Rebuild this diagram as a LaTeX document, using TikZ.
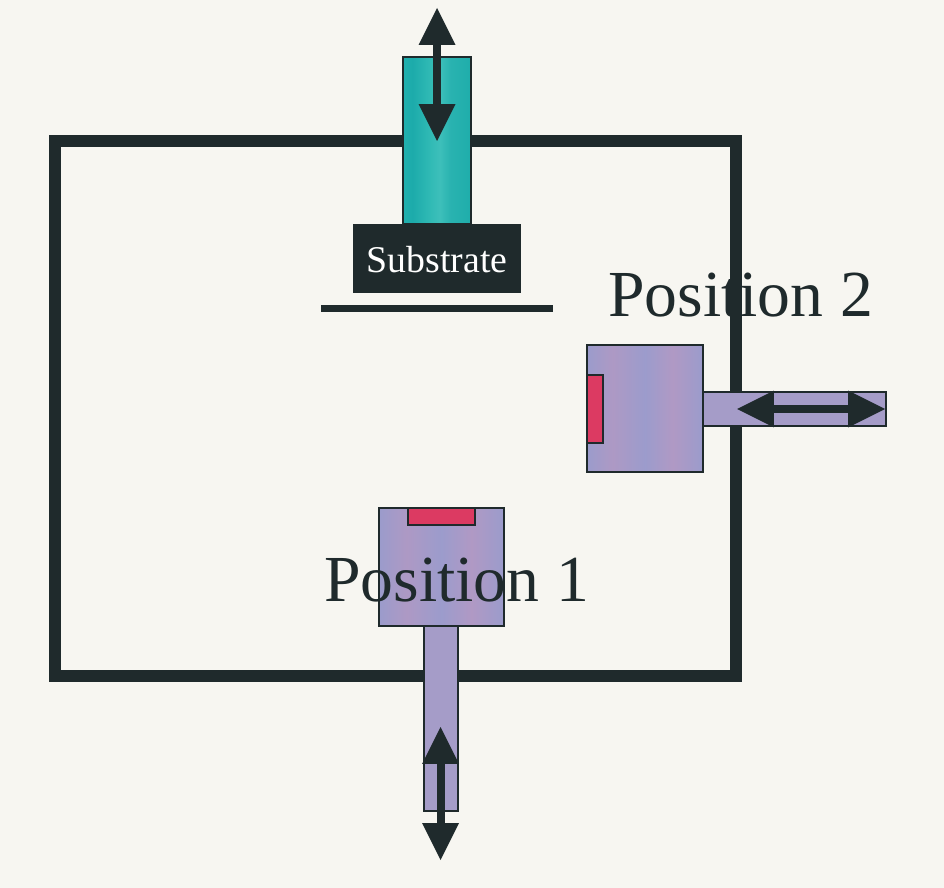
\documentclass[tikz,border=0pt]{standalone}
\usepackage{fontspec}
\usetikzlibrary{arrows.meta}
\setmainfont{Liberation Serif}

\definecolor{paper}{HTML}{F7F6F1}
\definecolor{ink}{HTML}{1F2A2C}
\definecolor{lilac}{HTML}{A59CC8}
\definecolor{sample}{HTML}{DC3A62}

% Vertical bands left by the scan
\pgfdeclarehorizontalshading{tealbands}{100bp}{
    rgb(0bp)=(0.11,0.67,0.67); rgb(22bp)=(0.14,0.70,0.69); rgb(32bp)=(0.11,0.67,0.67);
    rgb(45bp)=(0.19,0.73,0.71); rgb(52bp)=(0.24,0.75,0.73); rgb(60bp)=(0.16,0.70,0.69);
    rgb(75bp)=(0.12,0.68,0.67); rgb(100bp)=(0.11,0.67,0.67)}
\pgfdeclarehorizontalshading{lilacbands}{100bp}{
    rgb(0bp)=(0.62,0.61,0.79); rgb(12bp)=(0.66,0.60,0.78); rgb(24bp)=(0.60,0.61,0.80);
    rgb(36bp)=(0.68,0.60,0.77); rgb(50bp)=(0.61,0.61,0.80); rgb(62bp)=(0.69,0.60,0.77);
    rgb(76bp)=(0.60,0.61,0.80); rgb(88bp)=(0.66,0.60,0.78); rgb(100bp)=(0.62,0.61,0.79)}

\tikzset{
    wall/.style={line width=0.24cm, draw=ink},
    part/.style={draw=ink, line width=1.4pt},
    rod/.style={part, shading=tealbands},
    holder/.style={part, shading=lilacbands},
    stem/.style={part, fill=lilac},
    motion/.style={line width=0.16cm, draw=ink,
        {Triangle[length=0.74cm, width=0.74cm, line width=0pt, color=ink]}-{Triangle[length=0.74cm, width=0.74cm, line width=0pt, color=ink]}},
    poslabel/.style={anchor=base, text=ink, inner sep=0pt, font=\fontsize{37.4}{40}\selectfont}
}

\begin{document}
\begin{tikzpicture}[x=0.02cm, y=-0.02cm]

    % Paper, this also fixes the size of the picture
    \fill[paper] (0,0) rectangle (944,888);
    \useasboundingbox (0,0) rectangle (944,888);

    % Label of position 2 goes behind the chamber wall
    \node[poslabel] (labeltwo) at (740.5,317) {Position 2};

    % Chamber
    \draw[wall] (55,141) rectangle (736,676);

    % ==========================================
    % SUBSTRATE ROD
    % ==========================================
    \draw[rod] (403,57) rectangle (471,224);
    \node[fill=ink, text=white, minimum width=3.36cm, minimum height=1.38cm, inner sep=0pt,
          text height=16pt, text depth=0.6pt,
          font=\fontsize{21.5}{24}\selectfont] (substrate) at (437,258.5) {Substrate};
    \draw[ink, line width=0.14cm] (321,308.5) -- (553,308.5);

    \coordinate (rodtop) at (437,8);
    \coordinate (rodbottom) at (437,141);
    \draw[motion] (rodtop) -- (rodbottom);

    % ==========================================
    % HOLDER IN POSITION 2
    % ==========================================
    \draw[stem] (703,392) rectangle (886,426);
    \draw[holder] (587,345) rectangle (703,472);
    \draw[part, fill=sample] (587,375) rectangle (603,443);

    \coordinate (twoleft) at (737,409);
    \coordinate (tworight) at (885,409);
    \draw[motion] (twoleft) -- (tworight);

    % ==========================================
    % HOLDER IN POSITION 1
    % ==========================================
    \draw[stem] (424,626) rectangle (458,811);
    \draw[holder] (379,508) rectangle (504,626);
    \draw[part, fill=sample] (408,508) rectangle (475,525);

    \coordinate (onetop) at (440.5,727);
    \coordinate (onebottom) at (440.5,860);
    \draw[motion] (onetop) -- (onebottom);

    \node[poslabel] (labelone) at (456.5,602) {Position 1};

\end{tikzpicture}
\end{document}
